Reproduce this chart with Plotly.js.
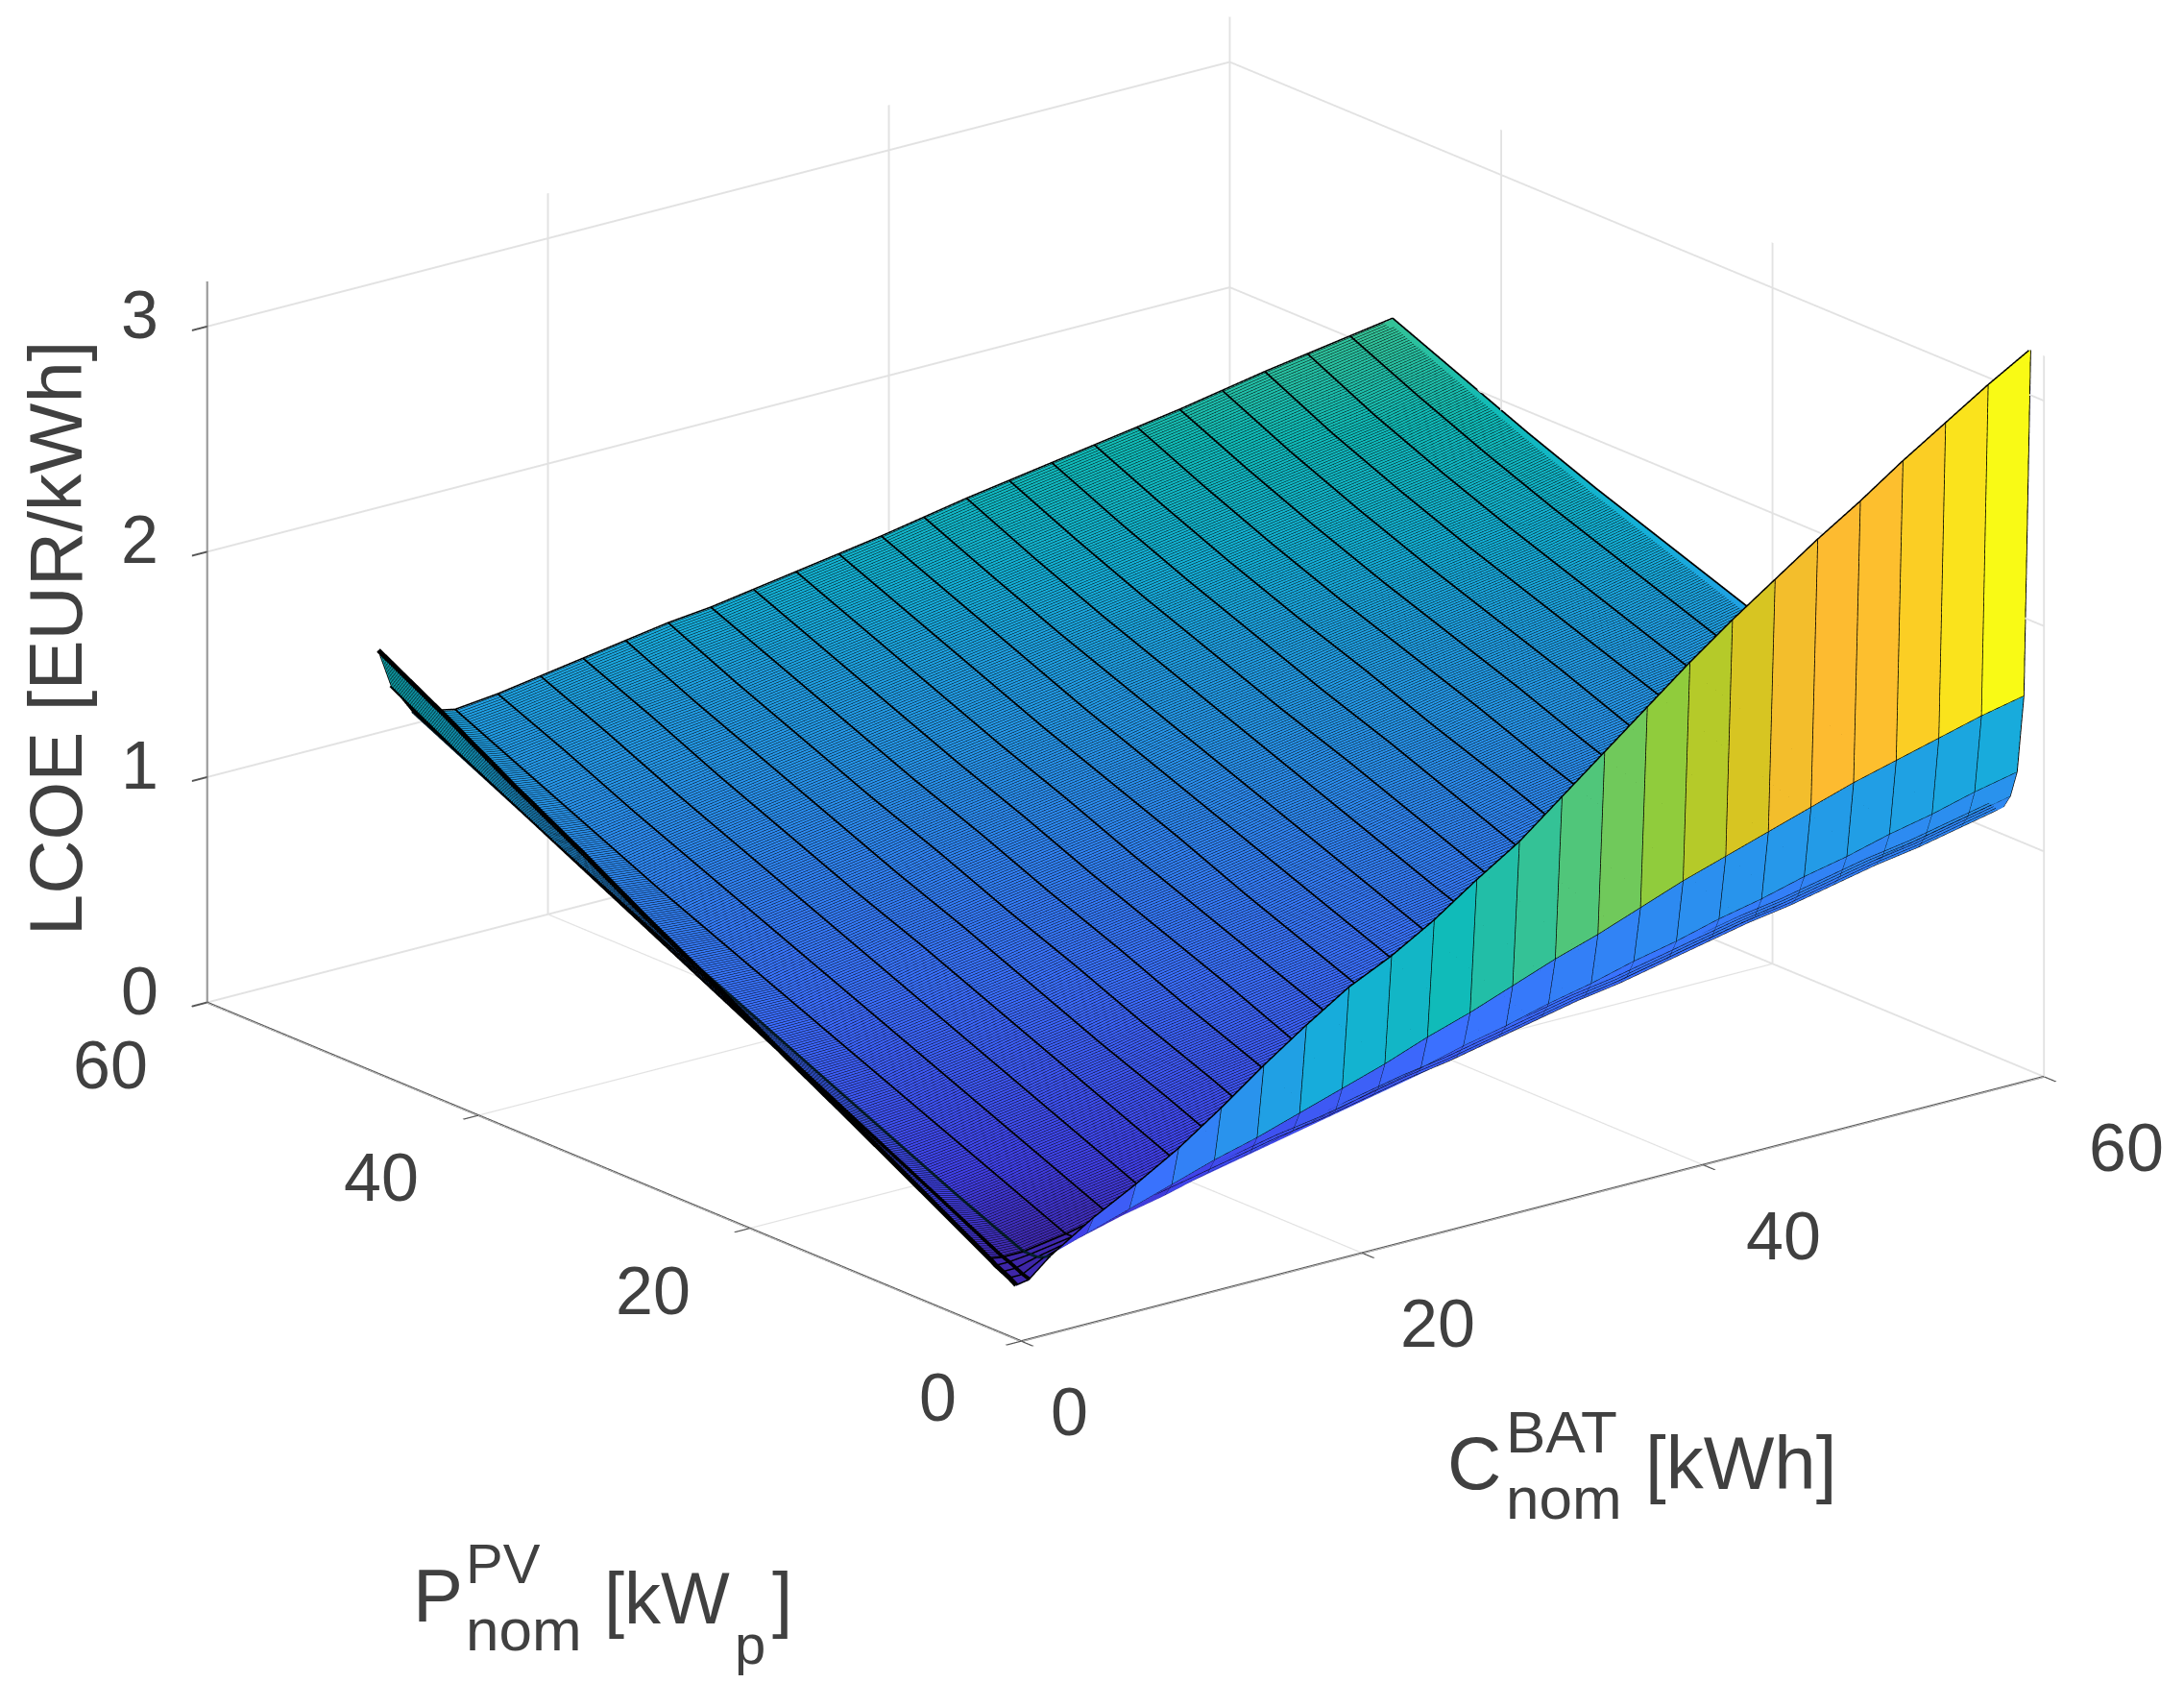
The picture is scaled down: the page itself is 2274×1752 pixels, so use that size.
<!DOCTYPE html>
<html><head><meta charset="utf-8">
<script src="https://cdn.plot.ly/plotly-3.0.1.min.js"></script>
<style>html,body{margin:0;padding:0;background:#fff}</style></head>
<body><div id="chart" style="width:2274px;height:1752px"></div>
<script>
const batteryKWh = [0.5,1.25,2.5,5,7.5,10,12.5,15,17.5,20,22.5,25,27.5,30,32.5,35,37.5,40,42.5,45,47.5,50,52.5,55,57.5,60];
const pvKWp = [1,1.5,2,2.5,3,8,13,18,23,28,33,38,43,48];
const lcoeP1  = [.21,.22,.30,.42,.52,.63,.76,.90,1.03,1.15,1.24,1.35,1.48,1.60,1.75,1.90,2.05,2.20,2.34,2.47,2.60,2.72,2.85,2.97,3.09,3.20];
const lcoeP1h = [.23,.23,.28,.34,.40,.46,.52,.57,.63,.69,.75,.82,.88,.95,1.02,1.08,1.15,1.22,1.28,1.34,1.40,1.46,1.51,1.56,1.61,1.65];
const lcoeP2  = [.245,.245,.27,.31,.36,.40,.45,.49,.54,.58,.63,.67,.72,.76,.81,.85,.90,.94,.99,1.03,1.08,1.12,1.17,1.21,1.26,1.30];
const lcoeP2h = [.26,.26,.27,.30,.34,.38,.42,.46,.50,.54,.58,.62,.66,.70,.74,.78,.82,.86,.90,.94,.98,1.02,1.06,1.10,1.14,1.18];
const lcoeP3  = [.28,.27,.27,.30,.34,.37,.41,.45,.49,.52,.56,.60,.63,.67,.71,.75,.78,.82,.86,.90,.93,.97,1.01,1.04,1.08,1.12];
const lcoeP8  = [.455,.425,.40,.43,.47,.50,.54,.58,.62,.65,.68,.72,.75,.79,.83,.87,.90,.94,.98,1.01,1.04,1.08,1.12,1.15,1.19,1.23];
const lcoeP13 = [.63,.58,.54,.56,.60,.63,.67,.70,.74,.77,.81,.84,.87,.91,.95,.98,1.02,1.05,1.09,1.13,1.16,1.19,1.23,1.26,1.30,1.34];
const lcoeP18 = [.80,.735,.68,.69,.73,.76,.80,.83,.87,.90,.93,.96,.99,1.03,1.07,1.10,1.14,1.17,1.21,1.24,1.27,1.30,1.34,1.37,1.41,1.45];
const lcoeP23 = [.98,.89,.82,.82,.86,.89,.93,.96,.99,1.02,1.05,1.08,1.12,1.15,1.19,1.22,1.26,1.29,1.32,1.36,1.39,1.42,1.45,1.48,1.52,1.56];
const lcoeP28 = [1.15,1.045,.96,.95,.99,1.02,1.05,1.08,1.12,1.15,1.18,1.21,1.24,1.27,1.31,1.34,1.37,1.40,1.44,1.47,1.50,1.53,1.56,1.59,1.63,1.67];
const lcoeP33 = [1.33,1.20,1.10,1.08,1.12,1.15,1.18,1.21,1.24,1.27,1.30,1.33,1.36,1.39,1.43,1.46,1.49,1.52,1.55,1.58,1.61,1.64,1.67,1.70,1.74,1.78];
const lcoeP38 = [1.50,1.355,1.24,1.22,1.25,1.28,1.31,1.34,1.37,1.40,1.43,1.46,1.49,1.52,1.55,1.58,1.61,1.64,1.67,1.70,1.73,1.76,1.79,1.82,1.86,1.90];
const lcoeP43 = [1.68,1.51,1.39,1.36,1.39,1.42,1.45,1.47,1.50,1.53,1.56,1.59,1.62,1.65,1.68,1.71,1.74,1.77,1.80,1.83,1.86,1.89,1.92,1.95,1.99,2.03];
const lcoeP48 = [1.85,1.68,1.54,1.50,1.52,1.55,1.58,1.61,1.64,1.66,1.69,1.72,1.75,1.78,1.815,1.85,1.88,1.91,1.94,1.97,2.00,2.035,2.07,2.10,2.13,2.16];
const axisTicks = [0,20,40,60];
const lcoeTicks = [0,1,2,3];
const parula = [[0,'#3E26A8'],[.03,'#4040E8'],[.1,'#3B6FFF'],[.2,'#2796EB'],[.3,'#14B0D8'],[.4,'#10BBB8'],[.5,'#3CC48E'],[.64,'#90CC3C'],[.72,'#CCC81E'],[.8,'#FDBB30'],[.86,'#FDBB30'],[.93,'#FBD321'],[1,'#F9FB15']];
// colour value used for each LCOE level on the fine-mesh part of the surface
const shadeLevels = [.2,.25,1,1.5,2.2,3.3];
const shadeValues = [.2,.2,.6,.9,1.68,2.8];

const lcoe = [lcoeP1,lcoeP1h,lcoeP2,lcoeP2h,lcoeP3,lcoeP8,lcoeP13,lcoeP18,lcoeP23,lcoeP28,lcoeP33,lcoeP38,lcoeP43,lcoeP48];
function shade(z){
  for(let k=1;k<shadeLevels.length;k++){
    if(z<=shadeLevels[k]){const t=(z-shadeLevels[k-1])/(shadeLevels[k]-shadeLevels[k-1]);return shadeValues[k-1]+t*(shadeValues[k]-shadeValues[k-1]);}
  }
  return shadeValues[shadeValues.length-1];
}

// Flat-shaded faces: every grid line is doubled so a face keeps a single colour.
const EPS = 1e-3;
const FLAT_ROWS = 4;
const gx=[], colIdx=[], colColor=[];
batteryKWh.forEach((c,j)=>{
  if(j>0){gx.push(c-EPS);colIdx.push(j);colColor.push(j-1);}
  if(j<batteryKWh.length-1){gx.push(c);colIdx.push(j);colColor.push(j);}
});
const gy=[], rowIdx=[], rowColor=[];
pvKWp.forEach((p,i)=>{
  if(i>0 && i<=FLAT_ROWS){gy.push(p-EPS);rowIdx.push(i);rowColor.push(i-1);}
  gy.push(p);rowIdx.push(i);rowColor.push(i);
});
const gz=rowIdx.map(i=>colIdx.map(j=>lcoe[i][j]));
const gc=rowColor.map(i=>colColor.map(j=>i===0?lcoe[i][j]:shade(lcoe[i][j])));

const INK = '#404040';
const K = 2274/1568;
function lab(text,x,y,size,opts){
  return Object.assign({text:text,xref:'paper',yref:'paper',x:x*K/2274,y:1-y*K/1752,xanchor:'left',yanchor:'middle',showarrow:false,
    font:{family:'Liberation Sans, Arial, sans-serif',size:size,color:INK}},opts||{});
}
function axis(ticks,range){
  return {range:range,tickvals:ticks,showticklabels:false,title:{text:''},showgrid:true,gridcolor:'#e2e2e2',gridwidth:4,
    showline:false,ticks:'outside',ticklen:20,tickcolor:'#555',tickwidth:4,showbackground:false,
    zeroline:false,showspikes:false,autorange:false};
}
const tickFont={family:'Liberation Sans, Arial, sans-serif',size:70,color:INK};
const sceneAnn=[];
const pvShiftX=[-87,-101,-101,-101], pvShiftY=[-59,-65,-65,-65];
const batShiftX=[50,79,84,86];
axisTicks.forEach((t,i)=>{
  sceneAnn.push({x:0,y:t,z:0,text:String(t),showarrow:false,font:tickFont,xshift:pvShiftX[i],yshift:pvShiftY[i]});
  sceneAnn.push({x:t,y:0,z:0,text:String(t),showarrow:false,font:tickFont,xshift:batShiftX[i],yshift:-74});
});
lcoeTicks.forEach(t=>sceneAnn.push({x:0,y:60,z:t,text:String(t),showarrow:false,font:tickFont,xshift:-70,yshift:12}));

const LIFT=.004;
const trace={type:'surface',x:gx,y:gy,z:gz,surfacecolor:gc,colorscale:parula,cmin:.2,cmax:3.1,showscale:false,hoverinfo:'skip',
  lighting:{ambient:1,diffuse:0,specular:0,roughness:1,fresnel:0},
  contours:{
    x:{show:false,highlight:false},
    y:{show:true,start:3,end:48,size:.16,color:'#000',width:1,highlight:false},
    z:{show:false,highlight:false}}};
function joinLines(lines){
  const out={x:[],y:[],z:[]};
  lines.forEach(l=>{out.x.push(...l.x,null);out.y.push(...l.y,null);out.z.push(...l.z,null);});
  return out;
}
function lineTrace(d,width,color){
  return {type:'scatter3d',mode:'lines',x:d.x,y:d.y,z:d.z,connectgaps:false,line:{color:color,width:width},hoverinfo:'skip',showlegend:false};
}
const columnLine=j=>({x:pvKWp.map(()=>batteryKWh[j]),y:pvKWp,z:lcoe.map(r=>r[j]+LIFT)});
const rowLine=i=>({x:batteryKWh,y:batteryKWh.map(()=>pvKWp[i]),z:lcoe[i].map(v=>v+LIFT)});
const coarse=joinLines(batteryKWh.map((c,j)=>j).filter(j=>j>2).map(columnLine));
const dense=joinLines([0,1].map(columnLine));
const inner=joinLines([2].map(columnLine));
const rows=joinLines([0,1,2,3,4,13].map(rowLine));
const ends=[0,60];
const axes=joinLines([
  {x:ends,y:[0,0],z:[0,0]},
  {x:[0,0],y:ends,z:[0,0]},
  {x:[0,0],y:[60,60],z:[0,3.2]}]);
const layout={width:2274,height:1752,paper_bgcolor:'#fff',margin:{l:0,r:0,t:0,b:0},showlegend:false,
  scene:{domain:{x:[0,1],y:[0,1]},
    xaxis:axis(axisTicks,[0,60]),yaxis:axis(axisTicks,[0,60]),zaxis:axis(lcoeTicks,[0,3.2]),
    aspectmode:'manual',aspectratio:{x:1.548,y:1.563,z:.907},
    camera:{projection:{type:'orthographic'},eye:{x:-1.2404,y:-1.509,z:.4736},center:{x:-.0704,y:-.025,z:-.1824},up:{x:0,y:0,z:1}},
    annotations:sceneAnn},
  annotations:[
    lab('LCOE [EUR/kWh]',40,458,78,{textangle:-90,xanchor:'center',yanchor:'middle'}),
    lab('C',1038,1050,78),lab('BAT',1080,1028,62),lab('nom',1080,1075,62),lab('[kWh]',1180,1050,78),
    lab('P',295,1145,78),lab('PV',333,1122,58),lab('nom',333,1170,62),lab('[kW',432,1147,76),lab('p',526,1180,58),lab(']',553,1147,76)
  ]};
Plotly.newPlot('chart',[trace,lineTrace(coarse,3.5,'#000'),lineTrace(dense,10,'#000'),lineTrace(inner,7,'#06202e'),lineTrace(rows,3,'#000'),lineTrace(axes,4,'#555')],layout,{displayModeBar:false});
</script></body></html>
